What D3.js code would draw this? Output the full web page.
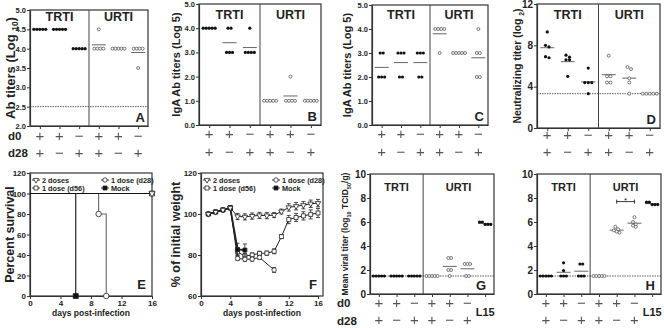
<!DOCTYPE html>
<meta charset="utf-8">
<style>
  body { margin: 0; background: #fff; }
  svg text { font-family: Arial, "Liberation Sans", sans-serif; fill: #222; }
  .frame { fill: none; stroke: #333; stroke-width: 1.2px; }
</style>

<svg width="664" height="328">
  <defs>
    <filter id="flat" x="0" y="0" width="1" height="1"><feOffset dx="0" dy="0"/></filter>
  </defs>
</svg>

<script src="https://cdn.jsdelivr.net/npm/d3@7"></script>
<script>

// ---- panels A-D, G-H : d0 / d28 immunisation schedule ----
var d0Signs  = ["+", "+", "\u2212", "+", "+", "\u2212"],
    d28Signs = ["+", "\u2212", "+", "+", "\u2212", "+"],
    sites = ["TRTI", "URTI"];

var abTiter = [[4.5, 4.5, 4.5, 4.5, 4.5], [4.5, 4.5, 4.5, 4.5, 4.5], [4, 4, 4, 4, 4],
               [4.5, 4, 4, 4, 4], [4, 4, 4, 4, 4], [4, 4, 4, 4, 3.5]];
var igaB = [[4, 4, 4, 4, 4], [4, 4, 3, 3, 3], [4, 3, 3, 3, 3],
            [1, 1, 1, 1, 1], [2, 1, 1, 1, 1], [1, 1, 1, 1, 1]];
var igaC = [[3, 3, 2, 2, 2], [3, 3, 3, 2, 2], [3, 3, 3, 2, 2],
            [4, 4, 4, 4, 3], [3, 3, 3, 3, 3], [4, 3, 3, 2, 2]];
var neutD = [[9.3, 8.0, 7.85, 6.9, 6.8], [7.05, 6.85, 6.6, 6.6, 5.0], [5.8, 4.4, 4.4, 4.4, 3.32],
             [7.0, 5.0, 5.0, 4.4, 4.4], [5.9, 5.7, 4.8, 4.4, 3.32], [3.32, 3.32, 3.32, 3.32, 3.32]];
var viralG = [[1.5, 1.5, 1.5, 1.5, 1.5], [1.5, 1.5, 1.5, 1.5, 1.5], [1.5, 1.5, 1.5, 1.5, 1.5],
              [1.5, 1.5, 1.5, 1.5, 1.5], [3, 3, 2, 2, 1.5], [2.5, 2.5, 2.5, 1.5, 1.5],
              [6, 6, 5.8, 5.8, 5.8]];
var viralH = [[1.5, 1.5, 1.5, 1.5, 1.5], [2.6, 1.95, 1.5, 1.5, 1.5], [2.5, 2.5, 1.5, 1.5, 1.5],
              [1.5, 1.5, 1.5, 1.5, 1.5], [5.6, 5.4, 5.3, 5.2, 5.1], [6.4, 6.0, 5.8, 5.7, 5.6],
              [7.65, 7.65, 7.45, 7.45, 7.45]];

// ---- panel E : survival ----
var survTwoDays = [0, 16],   survTwo = [100, 100];
var survD56Days = [0, 16],   survD56 = [100, 100];
var survD28Days = [0, 9, 10], survD28 = [100, 80, 0];
var survMockDays = [0, 6],   survMock = [100, 0];

// ---- panel F : weight ----
var wDays = [1, 2, 3, 4, 5, 6, 7, 8, 9, 10, 11, 12, 13, 14, 15, 16];
var wTwo    = [100, 101, 102, 103, 98.8, 98.6, 99, 99.3, 99.2, 99.5, 101.2, 103.2, 103.8, 104.3, 105, 105.3],
    wTwoErr = [0.4, 0.6, 0.6, 0.8, 1.5, 1.5, 1.5, 1.5, 1.5, 1.2, 1.2, 1.8, 1.8, 1.8, 1.8, 1.8];
var wD56    = [100, 101, 102, 103, 81.5, 79.5, 80, 80.8, 80.9, 81.8, 89, 97.3, 98.3, 99.1, 99.8, 100.5],
    wD56Err = [0.4, 0.6, 0.6, 0.8, 1.5, 1.2, 1, 1, 1, 1.2, 1, 2, 2, 2, 2.2, 2.2];
var wD28Days = [1, 2, 3, 4, 5, 6, 7, 8, 10],
    wD28     = [100, 101, 102, 103, 78.3, 77.9, 78, 78.8, 72.7],
    wD28Err  = [0.4, 0.6, 0.6, 0.8, 1, 1, 1, 1, 1.2];
var wMockDays = [1, 2, 3, 4, 5, 6],
    wMock     = [100, 101, 102, 103, 82.7, 82.4],
    wMockErr  = [0.4, 0.6, 0.6, 0.8, 3, 3];

var svg = d3.select("svg");

function styleAxis(sel, size) {
    sel.select(".domain").attr("stroke", "#333").attr("stroke-width", 1.2);
    sel.selectAll(".tick line").attr("stroke", "#333");
    sel.selectAll(".tick text").attr("font-size", size).attr("font-weight", "bold").attr("fill", "#222");
}

// text with subscripts, parts = [[text, isSub], ...]; x is the centre of the rotated label
function richText(g, x, y, parts, size, rotate) {
    var t = g.append("text")
        .attr("transform", "translate(" + (rotate ? x + size * 0.35 : x) + "," + y + ")" + (rotate ? " rotate(-90)" : ""))
        .attr("text-anchor", "middle")
        .attr("font-size", size)
        .attr("font-weight", "bold");
    var shift = 0;
    parts.forEach(function(p) {
        var s = p[1] ? size * 0.3 : 0;
        t.append("tspan").attr("dy", s - shift).attr("font-size", p[1] ? size * 0.65 : size).text(p[0]);
        shift = s;
    });
}

function dotPanel(p) {
    var g = svg.append("g");
    var n = p.data.length;
    var x = d3.scalePoint().domain(d3.range(n)).range([p.x0, p.x1]).padding(0.5);
    var y = d3.scaleLinear().domain(p.domain).range([p.y1, p.y0]);
    var split = (x(2) + x(3)) / 2;

    g.append("rect").attr("class", "frame")
        .attr("x", p.x0).attr("y", p.y0)
        .attr("width", p.x1 - p.x0).attr("height", p.y1 - p.y0);
    g.append("line")
        .attr("x1", split).attr("x2", split).attr("y1", p.y0).attr("y2", p.y1)
        .attr("stroke", "#444").attr("stroke-width", 1);

    if (p.limit != null) {
        g.append("line")
            .attr("x1", p.x0).attr("x2", p.x1).attr("y1", y(p.limit)).attr("y2", y(p.limit))
            .attr("stroke", "#333").attr("stroke-width", 0.8).attr("stroke-dasharray", "1.5,1");
    }

    var ya = g.append("g").attr("transform", "translate(" + p.x0 + ",0)")
        .call(d3.axisLeft(y).tickValues(p.ticks).tickFormat(d3.format(p.fmt)).tickSize(3).tickSizeOuter(0).tickPadding(1));
    styleAxis(ya, p.tickSize);
    var xa = g.append("g").attr("transform", "translate(0," + p.y1 + ")")
        .call(d3.axisBottom(x).tickSize(3).tickSizeOuter(0).tickFormat(""));
    styleAxis(xa, 8);

    g.selectAll(".site").data(sites).enter().append("text")
        .attr("x", function(d, i) { return i == 0 ? (p.x0 + split) / 2 : (split + p.x1) / 2; })
        .attr("y", p.siteY)
        .attr("text-anchor", "middle")
        .attr("font-size", p.siteSize).attr("font-weight", "bold")
        .text(function(d) { return d; });

    // spread equal values sideways, mean bar per group
    var pts = [], means = [];
    p.data.forEach(function(vals, i) {
        var groups = [];
        vals.slice().sort(d3.descending).forEach(function(v) {
            var last = groups[groups.length - 1];
            if (last && Math.abs(y(last[0]) - y(v)) < 3) last.push(v);
            else groups.push([v]);
        });
        groups.forEach(function(grp) {
            grp.forEach(function(v, j) {
                pts.push({cx: x(i) + (j - (grp.length - 1) / 2) * p.sp, cy: y(v), open: i >= 3 && i < 6});
            });
        });
        means.push({x: x(i), y: y(d3.mean(vals))});
    });

    g.selectAll(".mean").data(means).enter().append("line")
        .attr("x1", function(d) { return d.x - 7; })
        .attr("x2", function(d) { return d.x + 7; })
        .attr("y1", function(d) { return d.y; })
        .attr("y2", function(d) { return d.y; })
        .attr("stroke", "#666").attr("stroke-width", 1);

    g.selectAll(".pt").data(pts).enter().append("circle")
        .attr("cx", function(d) { return d.cx; })
        .attr("cy", function(d) { return d.cy; })
        .attr("r", function(d) { return d.open ? 1.5 : 1.6; })
        .attr("fill", function(d) { return d.open ? "#fff" : "#111"; })
        .attr("stroke", function(d) { return d.open ? "#444" : "none"; })
        .attr("stroke-width", 0.7);

    if (p.bracket) {
        var by = y(p.bracket[2]), bx1 = x(p.bracket[0]), bx2 = x(p.bracket[1]);
        g.append("path")
            .attr("d", "M" + bx1 + "," + (by - 2) + "V" + (by + 2) + "M" + bx1 + "," + by + "H" + bx2 +
                       "M" + bx2 + "," + (by - 2) + "V" + (by + 2))
            .attr("fill", "none").attr("stroke", "#222").attr("stroke-width", 0.9);
        g.append("text").attr("x", (bx1 + bx2) / 2).attr("y", by + 1)
            .attr("text-anchor", "middle").attr("font-size", 8).text("*");
    }

    // schedule rows, drawn through a no-op filter so the thin glyphs stay grey
    var rows = g.append("g").attr("filter", "url(#flat)");
    [d0Signs, d28Signs].forEach(function(row, r) {
        rows.selectAll(".sg" + r).data(row).enter().append("text")
            .attr("x", function(d, i) { return x(i); })
            .attr("y", p.signY[r] + 4.5)
            .attr("text-anchor", "middle")
            .attr("font-size", 15).style("fill", "#555")
            .text(function(d) { return d; });
    });
    if (p.rowLabelX != null) {
        ["d0", "d28"].forEach(function(t, r) {
            g.append("text").attr("x", p.rowLabelX).attr("y", p.signY[r] + 4)
                .attr("font-size", 11.5).attr("font-weight", "bold").text(t);
        });
    }
    if (n > 6) {
        g.append("text").attr("x", x(6)).attr("y", (p.signY[0] + p.signY[1]) / 2 + 4)
            .attr("text-anchor", "middle").attr("font-size", 11).attr("font-weight", "bold").text("L15");
    }

    g.append("text").attr("x", p.x1 - p.letterDx).attr("y", p.y1 - 4)
        .attr("text-anchor", "end").attr("font-size", 13).attr("font-weight", "bold").text(p.letter);

    if (p.ylabel) richText(g, p.ylabelX, (p.y0 + p.y1) / 2, p.ylabel, p.ylabelSize, true);
}

dotPanel({x0: 30, x1: 148, y0: 10, y1: 126, domain: [2, 5], ticks: [2, 2.5, 3, 3.5, 4, 4.5, 5], fmt: ".1f",
          tickSize: 7.5, data: abTiter, limit: 2.5, sp: 3, siteY: 21, siteSize: 12.5,
          ylabel: [["Ab titers (Log ", 0], ["10", 1], [")", 0]], ylabelX: 10, ylabelSize: 13,
          signY: [136, 153], rowLabelX: 8, letter: "A", letterDx: 3});
dotPanel({x0: 199, x1: 321, y0: 4, y1: 125, domain: [0, 5], ticks: [0, 1, 2, 3, 4, 5], fmt: ".1f",
          tickSize: 7.5, data: igaB, sp: 3, siteY: 19, siteSize: 12.5,
          ylabel: [["IgA Ab titers (Log 5)", 0]], ylabelX: 176, ylabelSize: 11,
          signY: [134, 152.5], letter: "B", letterDx: 4});
dotPanel({x0: 372, x1: 488, y0: 5, y1: 125, domain: [0, 5], ticks: [0, 1, 2, 3, 4, 5], fmt: ".1f",
          tickSize: 7.5, data: igaC, sp: 3, siteY: 19, siteSize: 12.5,
          ylabel: [["IgA Ab titers (Log 5)", 0]], ylabelX: 347, ylabelSize: 11,
          signY: [134, 152.5], letter: "C", letterDx: 4});
dotPanel({x0: 537, x1: 660, y0: 4, y1: 128, domain: [0, 12], ticks: [0, 4, 8, 12], fmt: "d",
          tickSize: 10, data: neutD, limit: 3.32, sp: 3.5, siteY: 19, siteSize: 12.5,
          ylabel: [["Neutralizing titer (log ", 0], ["2", 1], [")", 0]], ylabelX: 517, ylabelSize: 10.5,
          signY: [135, 152.5], letter: "D", letterDx: 4});
dotPanel({x0: 370, x1: 494, y0: 174, y1: 294, domain: [0, 10], ticks: [0, 2, 4, 6, 8, 10], fmt: "d",
          tickSize: 10, data: viralG, limit: 1.5, sp: 2.8, siteY: 191, siteSize: 11,
          ylabel: [["Mean viral titer (log", 0], ["10", 1], [" TCID", 0], ["50", 1], ["/g)", 0]],
          ylabelX: 345, ylabelSize: 8.5, signY: [303, 320.5], rowLabelX: 337, letter: "G", letterDx: 8});
dotPanel({x0: 537, x1: 661, y0: 174, y1: 294, domain: [0, 10], ticks: [0, 2, 4, 6, 8, 10], fmt: "d",
          tickSize: 10, data: viralH, limit: 1.5, sp: 2.8, siteY: 191, siteSize: 11,
          signY: [303, 320.5], letter: "H", letterDx: 6, bracket: [4, 5, 7.7]});

// ---- shared bits for E and F ----
var symTri = d3.symbol().type(d3.symbolTriangle),
    symSq = d3.symbol().type(d3.symbolSquare);

function marker(g, type, cx, cy, s) {
    if (type == "tri") {
        g.append("path").attr("d", symTri.size(s * 3.2)())
            .attr("transform", "translate(" + cx + "," + cy + ") rotate(180)")
            .attr("fill", "#fff").attr("stroke", "#222").attr("stroke-width", 0.8);
    } else if (type == "circ") {
        g.append("circle").attr("cx", cx).attr("cy", cy).attr("r", s * 0.55)
            .attr("fill", "#fff").attr("stroke", "#222").attr("stroke-width", 0.8);
    } else {
        g.append("path").attr("d", symSq.size(s * s)())
            .attr("transform", "translate(" + cx + "," + cy + ")")
            .attr("fill", type == "mock" ? "#111" : "#fff").attr("stroke", "#222").attr("stroke-width", 0.8);
    }
}

function legend(g, x0, y0) {
    var items = [["2 doses", "tri", 0, 0], ["1 dose (d28)", "circ", 69, 0],
                 ["1 dose (d56)", "sq", 0, 8], ["Mock", "mock", 69, 8]];
    items.forEach(function(it) {
        var sx = x0 + 6 + it[2], sy = y0 + it[3];
        g.append("line").attr("x1", sx - 4).attr("x2", sx + 4).attr("y1", sy).attr("y2", sy)
            .attr("stroke", "#222").attr("stroke-width", 0.9);
        marker(g, it[1], sx, sy, 4);
        g.append("text").attr("x", sx + 6).attr("y", sy + 2.8)
            .attr("font-size", 7.3).attr("font-weight", "bold").text(it[0]);
    });
}

function lineFrame(g, x, y, x1, xt, yt, letter, title, labelX) {
    g.append("rect").attr("class", "frame")
        .attr("x", x.range()[0]).attr("y", y.range()[1])
        .attr("width", x1 - x.range()[0]).attr("height", y.range()[0] - y.range()[1]);
    var ya = g.append("g").attr("transform", "translate(" + x.range()[0] + ",0)")
        .call(d3.axisLeft(y).tickValues(yt).tickSize(3).tickSizeOuter(0).tickPadding(1));
    styleAxis(ya, 8);
    var xa = g.append("g").attr("transform", "translate(0," + y.range()[0] + ")")
        .call(d3.axisBottom(x).tickValues(xt).tickSize(3).tickSizeOuter(0).tickPadding(1));
    styleAxis(xa, 8);
    g.append("text").attr("x", (x.range()[0] + x1) / 2).attr("y", 316)
        .attr("text-anchor", "middle").attr("font-size", 8.5).attr("font-weight", "bold")
        .text("days post-infection");
    g.append("text").attr("x", x1 - 6).attr("y", y.range()[0] - 7)
        .attr("text-anchor", "end").attr("font-size", 13).attr("font-weight", "bold").text(letter);
    richText(g, labelX, (y.range()[0] + y.range()[1]) / 2, [[title, 0]], 12.5, true);
}

// ---- E: survival ----
var gE = svg.append("g");
var xE = d3.scaleLinear().domain([0, 16]).range([30, 152]),
    yE = d3.scaleLinear().domain([0, 120]).range([296, 173]);
lineFrame(gE, xE, yE, 152, [0, 4, 8, 12, 16], [0, 20, 40, 60, 80, 100, 120], "E", "Percent survival", 10);

var step = d3.line().curve(d3.curveStepAfter)
    .x(function(d) { return xE(d[0]); }).y(function(d) { return yE(d[1]); });
[[survD28Days, survD28, "circ", "#666"], [survMockDays, survMock, "mock", "#111"],
 [survD56Days, survD56, "sq", "#111"], [survTwoDays, survTwo, "tri", "#111"]].forEach(function(s) {
    var pts = d3.zip(s[0], s[1]);
    gE.append("path").attr("d", step(pts)).attr("fill", "none")
        .attr("stroke", s[3]).attr("stroke-width", 1.1);
    pts.slice(1).forEach(function(d) { marker(gE, s[2], xE(d[0]), yE(d[1]), 5); });
});
legend(gE, 30, 180);

// ---- F: weight ----
var gF = svg.append("g");
var xF = d3.scaleLinear().domain([0, 16]).range([201, 318]),
    yF = d3.scaleLinear().domain([60, 120]).range([296, 173]);
lineFrame(gF, xF, yF, 323, [0, 4, 8, 12, 16], [60, 80, 100, 120], "F", "% of initial weight", 176);

var wLine = d3.line().x(function(d) { return xF(d[0]); }).y(function(d) { return yF(d[1]); });
[[wDays, wD56, wD56Err, "sq", 1], [wD28Days, wD28, wD28Err, "circ", 1],
 [wMockDays, wMock, wMockErr, "mock", 1.8], [wDays, wTwo, wTwoErr, "tri", 1]].forEach(function(s) {
    var pts = d3.zip(s[0], s[1], s[2]);
    pts.forEach(function(d) {
        var xx = xF(d[0]);
        gF.append("path")
            .attr("d", "M" + xx + "," + yF(d[1] - d[2]) + "V" + yF(d[1] + d[2]) +
                       "M" + (xx - 2) + "," + yF(d[1] + d[2]) + "H" + (xx + 2) +
                       "M" + (xx - 2) + "," + yF(d[1] - d[2]) + "H" + (xx + 2))
            .attr("stroke", "#222").attr("stroke-width", 0.8).attr("fill", "none");
    });
    gF.append("path").attr("d", wLine(pts)).attr("fill", "none")
        .attr("stroke", "#222").attr("stroke-width", s[4]);
    pts.forEach(function(d) { marker(gF, s[3], xF(d[0]), yF(d[1]), 4); });
});
legend(gF, 201, 180);

</script>
